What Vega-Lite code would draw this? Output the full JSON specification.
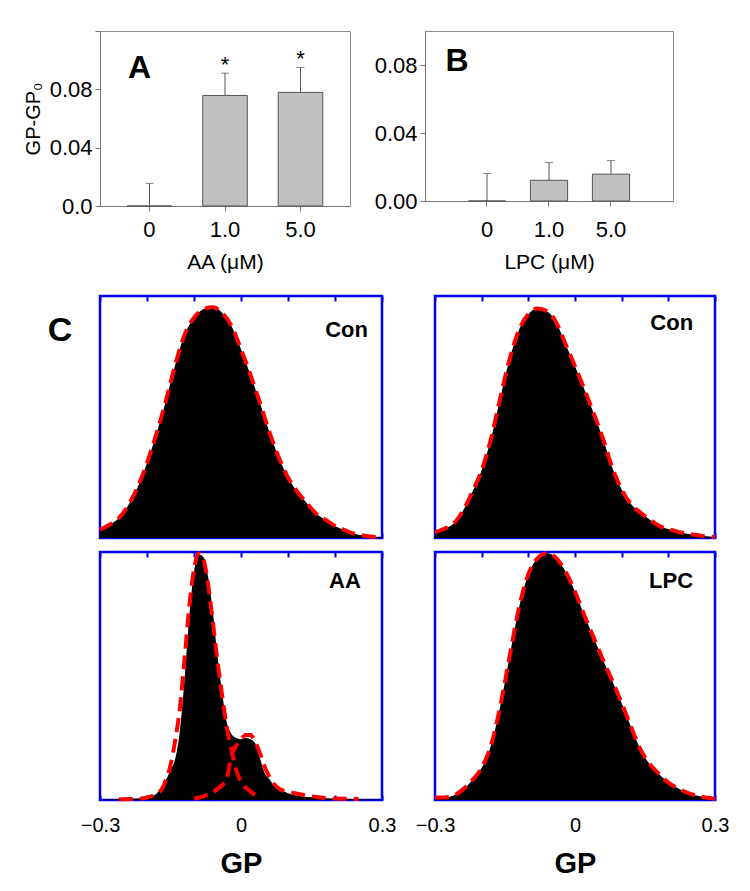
{
  "$schema": "https://vega.github.io/schema/vega-lite/v6.json",
  "background": "white",
  "padding": {"left": 22, "top": 30, "right": 5, "bottom": 5},
  "config": {"font": "Liberation Sans", "axis": {"grid": false}},
  "datasets": {
    "barsAA": [
      {"conc": "0", "value": 0, "upper": 0.0155, "sig": ""},
      {"conc": "1.0", "value": 0.0758, "upper": 0.0911, "sig": "*"},
      {"conc": "5.0", "value": 0.0779, "upper": 0.095, "sig": "*"}
    ],
    "barsLPC": [
      {"conc": "0", "value": 0, "upper": 0.0162},
      {"conc": "1.0", "value": 0.0122, "upper": 0.0226},
      {"conc": "5.0", "value": 0.0158, "upper": 0.0238}
    ],
    "conL": [
      {"gp": -0.30, "count": 0.034}, {"gp": -0.28, "count": 0.055}, {"gp": -0.26, "count": 0.082},
      {"gp": -0.24, "count": 0.135}, {"gp": -0.22, "count": 0.21}, {"gp": -0.20, "count": 0.31},
      {"gp": -0.18, "count": 0.43}, {"gp": -0.16, "count": 0.565}, {"gp": -0.14, "count": 0.715},
      {"gp": -0.12, "count": 0.84}, {"gp": -0.10, "count": 0.91}, {"gp": -0.08, "count": 0.945},
      {"gp": -0.06, "count": 0.953}, {"gp": -0.04, "count": 0.93}, {"gp": -0.02, "count": 0.875},
      {"gp": 0.00, "count": 0.78}, {"gp": 0.02, "count": 0.675}, {"gp": 0.04, "count": 0.56},
      {"gp": 0.06, "count": 0.44}, {"gp": 0.08, "count": 0.335}, {"gp": 0.10, "count": 0.25},
      {"gp": 0.12, "count": 0.19}, {"gp": 0.14, "count": 0.145}, {"gp": 0.16, "count": 0.10},
      {"gp": 0.18, "count": 0.075}, {"gp": 0.20, "count": 0.05}, {"gp": 0.22, "count": 0.033},
      {"gp": 0.24, "count": 0.018}, {"gp": 0.26, "count": 0.01}, {"gp": 0.28, "count": 0.005},
      {"gp": 0.30, "count": 0.003}
    ],
    "conR": [
      {"gp": -0.30, "count": 0.023}, {"gp": -0.28, "count": 0.038}, {"gp": -0.26, "count": 0.06},
      {"gp": -0.24, "count": 0.113}, {"gp": -0.22, "count": 0.19}, {"gp": -0.20, "count": 0.28},
      {"gp": -0.18, "count": 0.41}, {"gp": -0.16, "count": 0.58}, {"gp": -0.14, "count": 0.74},
      {"gp": -0.12, "count": 0.86}, {"gp": -0.10, "count": 0.925}, {"gp": -0.08, "count": 0.948},
      {"gp": -0.06, "count": 0.937}, {"gp": -0.04, "count": 0.89}, {"gp": -0.02, "count": 0.80},
      {"gp": 0.00, "count": 0.71}, {"gp": 0.02, "count": 0.615}, {"gp": 0.04, "count": 0.515},
      {"gp": 0.06, "count": 0.41}, {"gp": 0.08, "count": 0.29}, {"gp": 0.10, "count": 0.20},
      {"gp": 0.12, "count": 0.14}, {"gp": 0.14, "count": 0.105}, {"gp": 0.16, "count": 0.076},
      {"gp": 0.18, "count": 0.05}, {"gp": 0.20, "count": 0.037}, {"gp": 0.22, "count": 0.026},
      {"gp": 0.24, "count": 0.018}, {"gp": 0.26, "count": 0.012}, {"gp": 0.28, "count": 0.007},
      {"gp": 0.30, "count": 0.004}
    ],
    "lpc": [
      {"gp": -0.30, "count": 0.01}, {"gp": -0.28, "count": 0.01}, {"gp": -0.26, "count": 0.018},
      {"gp": -0.24, "count": 0.043}, {"gp": -0.22, "count": 0.08}, {"gp": -0.20, "count": 0.13},
      {"gp": -0.18, "count": 0.22}, {"gp": -0.16, "count": 0.38}, {"gp": -0.14, "count": 0.58},
      {"gp": -0.12, "count": 0.775}, {"gp": -0.10, "count": 0.91}, {"gp": -0.08, "count": 0.975},
      {"gp": -0.06, "count": 0.995}, {"gp": -0.04, "count": 0.975}, {"gp": -0.02, "count": 0.92},
      {"gp": 0.00, "count": 0.84}, {"gp": 0.02, "count": 0.745}, {"gp": 0.04, "count": 0.655},
      {"gp": 0.06, "count": 0.565}, {"gp": 0.08, "count": 0.48}, {"gp": 0.10, "count": 0.39},
      {"gp": 0.12, "count": 0.295}, {"gp": 0.14, "count": 0.205}, {"gp": 0.16, "count": 0.145},
      {"gp": 0.18, "count": 0.105}, {"gp": 0.20, "count": 0.07}, {"gp": 0.22, "count": 0.048},
      {"gp": 0.24, "count": 0.03}, {"gp": 0.26, "count": 0.018}, {"gp": 0.28, "count": 0.01},
      {"gp": 0.30, "count": 0.005}
    ],
    "aaHist": [
      {"gp": -0.30, "count": 0.0}, {"gp": -0.28, "count": 0.002}, {"gp": -0.26, "count": 0.003},
      {"gp": -0.24, "count": 0.004}, {"gp": -0.22, "count": 0.006}, {"gp": -0.20, "count": 0.01},
      {"gp": -0.19, "count": 0.015}, {"gp": -0.18, "count": 0.025}, {"gp": -0.17, "count": 0.05},
      {"gp": -0.16, "count": 0.08}, {"gp": -0.15, "count": 0.12}, {"gp": -0.14, "count": 0.165},
      {"gp": -0.13, "count": 0.28}, {"gp": -0.12, "count": 0.49}, {"gp": -0.11, "count": 0.74},
      {"gp": -0.10, "count": 0.92}, {"gp": -0.09, "count": 0.99}, {"gp": -0.08, "count": 0.98},
      {"gp": -0.07, "count": 0.90}, {"gp": -0.06, "count": 0.76}, {"gp": -0.05, "count": 0.58},
      {"gp": -0.04, "count": 0.43}, {"gp": -0.03, "count": 0.31}, {"gp": -0.02, "count": 0.265},
      {"gp": -0.01, "count": 0.25}, {"gp": 0.00, "count": 0.245}, {"gp": 0.01, "count": 0.25},
      {"gp": 0.02, "count": 0.245}, {"gp": 0.03, "count": 0.23}, {"gp": 0.04, "count": 0.17},
      {"gp": 0.05, "count": 0.11}, {"gp": 0.06, "count": 0.085}, {"gp": 0.07, "count": 0.06},
      {"gp": 0.08, "count": 0.045}, {"gp": 0.09, "count": 0.035}, {"gp": 0.10, "count": 0.027},
      {"gp": 0.12, "count": 0.017}, {"gp": 0.14, "count": 0.012}, {"gp": 0.16, "count": 0.01},
      {"gp": 0.18, "count": 0.007}, {"gp": 0.20, "count": 0.005}, {"gp": 0.22, "count": 0.004},
      {"gp": 0.24, "count": 0.003}, {"gp": 0.26, "count": 0.002}, {"gp": 0.28, "count": 0.001},
      {"gp": 0.30, "count": 0.0}
    ],
    "aaFit": [
      {"curve": "G1", "gp": -0.26, "fit": 0.003}, {"curve": "G1", "gp": -0.24, "fit": 0.004},
      {"curve": "G1", "gp": -0.22, "fit": 0.005}, {"curve": "G1", "gp": -0.20, "fit": 0.01},
      {"curve": "G1", "gp": -0.18, "fit": 0.025}, {"curve": "G1", "gp": -0.17, "fit": 0.04},
      {"curve": "G1", "gp": -0.16, "fit": 0.08}, {"curve": "G1", "gp": -0.15, "fit": 0.14},
      {"curve": "G1", "gp": -0.14, "fit": 0.24}, {"curve": "G1", "gp": -0.13, "fit": 0.37},
      {"curve": "G1", "gp": -0.12, "fit": 0.57}, {"curve": "G1", "gp": -0.11, "fit": 0.78},
      {"curve": "G1", "gp": -0.10, "fit": 0.93}, {"curve": "G1", "gp": -0.09, "fit": 0.995},
      {"curve": "G1", "gp": -0.08, "fit": 0.97}, {"curve": "G1", "gp": -0.07, "fit": 0.87},
      {"curve": "G1", "gp": -0.06, "fit": 0.72}, {"curve": "G1", "gp": -0.05, "fit": 0.56},
      {"curve": "G1", "gp": -0.04, "fit": 0.42}, {"curve": "G1", "gp": -0.03, "fit": 0.29},
      {"curve": "G1", "gp": -0.02, "fit": 0.2}, {"curve": "G1", "gp": -0.01, "fit": 0.12},
      {"curve": "G1", "gp": 0.00, "fit": 0.075}, {"curve": "G1", "gp": 0.01, "fit": 0.05},
      {"curve": "G1", "gp": 0.02, "fit": 0.035}, {"curve": "G1", "gp": 0.03, "fit": 0.02},
      {"curve": "G1", "gp": 0.04, "fit": 0.01},
      {"curve": "G2", "gp": -0.10, "fit": 0.005}, {"curve": "G2", "gp": -0.08, "fit": 0.015},
      {"curve": "G2", "gp": -0.06, "fit": 0.03}, {"curve": "G2", "gp": -0.05, "fit": 0.045},
      {"curve": "G2", "gp": -0.04, "fit": 0.06}, {"curve": "G2", "gp": -0.03, "fit": 0.09},
      {"curve": "G2", "gp": -0.02, "fit": 0.18}, {"curve": "G2", "gp": -0.01, "fit": 0.22},
      {"curve": "G2", "gp": 0.00, "fit": 0.245}, {"curve": "G2", "gp": 0.01, "fit": 0.262},
      {"curve": "G2", "gp": 0.02, "fit": 0.262}, {"curve": "G2", "gp": 0.03, "fit": 0.235},
      {"curve": "G2", "gp": 0.04, "fit": 0.19}, {"curve": "G2", "gp": 0.05, "fit": 0.135},
      {"curve": "G2", "gp": 0.06, "fit": 0.095}, {"curve": "G2", "gp": 0.07, "fit": 0.065},
      {"curve": "G2", "gp": 0.08, "fit": 0.047}, {"curve": "G2", "gp": 0.10, "fit": 0.033},
      {"curve": "G2", "gp": 0.12, "fit": 0.025}, {"curve": "G2", "gp": 0.14, "fit": 0.018},
      {"curve": "G2", "gp": 0.16, "fit": 0.012}, {"curve": "G2", "gp": 0.18, "fit": 0.008},
      {"curve": "G2", "gp": 0.20, "fit": 0.006}, {"curve": "G2", "gp": 0.22, "fit": 0.005},
      {"curve": "G2", "gp": 0.25, "fit": 0.004}
    ]
  },
  "spacing": 20,
  "vconcat": [
    {
      "bounds": "flush",
      "spacing": 75,
      "hconcat": [
        {
          "width": 250,
          "height": 175,
          "view": {"stroke": "#8c8c8c", "strokeWidth": 1},
          "data": {"name": "barsAA"},
          "encoding": {
            "x": {"field": "conc", "type": "nominal", "sort": null, "scale": {"paddingInner": 0.41, "paddingOuter": 0.36},
              "axis": {"title": "AA (μM)", "labelAngle": 0, "labelFontSize": 22, "labelColor": "black", "titleFontSize": 21, "titleFontWeight": "normal", "titleColor": "black", "tickColor": "#777", "domainColor": "#777", "tickSize": 5, "labelPadding": 8, "titlePadding": 11}}
          },
          "layer": [
            {"mark": {"type": "bar", "fill": "#c0c0c0", "stroke": "#555", "strokeWidth": 1},
             "encoding": {"y": {"field": "value", "type": "quantitative", "scale": {"domain": [0, 0.12], "nice": false},
               "axis": {"values": [0, 0.02, 0.04, 0.06, 0.08, 0.1, 0.12], "labelExpr": "datum.value == 0 ? '0.0' : (datum.value == 0.04 ? '0.04' : (datum.value == 0.08 ? '0.08' : ''))", "title": "GP-GP₀", "titleFontSize": 20, "titleFontWeight": "normal", "titleColor": "black", "labelFontSize": 22, "labelColor": "black", "tickColor": "#777", "domainColor": "#777", "tickSize": 5, "labelPadding": 3, "titlePadding": 6}}}},
            {"mark": {"type": "rule", "color": "#555", "strokeWidth": 1},
             "encoding": {"y": {"field": "value", "type": "quantitative"}, "y2": {"field": "upper"}}},
            {"mark": {"type": "tick", "color": "#555", "size": 8, "thickness": 1, "orient": "horizontal"},
             "encoding": {"y": {"field": "upper", "type": "quantitative"}}},
            {"mark": {"type": "text", "fontSize": 22, "baseline": "alphabetic", "dy": -1, "color": "black"},
             "encoding": {"y": {"field": "upper", "type": "quantitative"}, "text": {"field": "sig"}}},
            {"data": {"values": [{"label": "A"}]},
             "mark": {"type": "text", "fontSize": 32, "fontWeight": "bold", "baseline": "alphabetic", "align": "center", "dx": -10, "color": "black"},
             "encoding": {"x": {"datum": "0", "type": "nominal"}, "y": {"datum": 0.088, "type": "quantitative"}, "text": {"field": "label"}}}
          ]
        },
        {
          "width": 248,
          "height": 170,
          "view": {"stroke": "#8c8c8c", "strokeWidth": 1},
          "data": {"name": "barsLPC"},
          "encoding": {
            "x": {"field": "conc", "type": "nominal", "sort": null, "scale": {"paddingInner": 0.4, "paddingOuter": 0.7},
              "axis": {"title": "LPC (μM)", "labelAngle": 0, "labelFontSize": 22, "labelColor": "black", "titleFontSize": 21, "titleFontWeight": "normal", "titleColor": "black", "tickColor": "#777", "domainColor": "#777", "tickSize": 5, "labelPadding": 13, "titlePadding": 11}}
          },
          "layer": [
            {"mark": {"type": "bar", "fill": "#c0c0c0", "stroke": "#555", "strokeWidth": 1},
             "encoding": {"y": {"field": "value", "type": "quantitative", "scale": {"domain": [0, 0.1], "nice": false},
               "axis": {"values": [0, 0.02, 0.04, 0.06, 0.08, 0.1], "labelExpr": "datum.value == 0 ? '0.00' : (datum.value == 0.04 ? '0.04' : (datum.value == 0.08 ? '0.08' : ''))", "title": null, "labelFontSize": 22, "labelColor": "black", "tickColor": "#777", "domainColor": "#777", "tickSize": 5, "labelPadding": 3}}}},
            {"mark": {"type": "rule", "color": "#555", "strokeWidth": 1},
             "encoding": {"y": {"field": "value", "type": "quantitative"}, "y2": {"field": "upper"}}},
            {"mark": {"type": "tick", "color": "#555", "size": 8, "thickness": 1, "orient": "horizontal"},
             "encoding": {"y": {"field": "upper", "type": "quantitative"}}},
            {"data": {"values": [{"label": "B"}]},
             "mark": {"type": "text", "fontSize": 32, "fontWeight": "bold", "baseline": "alphabetic", "align": "center", "dx": -30, "color": "black"},
             "encoding": {"x": {"datum": "0", "type": "nominal"}, "y": {"datum": 0.0765, "type": "quantitative"}, "text": {"field": "label"}}}
          ]
        }
      ]
    },
    {
      "spacing": -4,
      "vconcat": [
        {
          "bounds": "flush",
          "spacing": 53,
          "hconcat": [
            {
              "width": 282,
              "height": 242,
              "view": {"stroke": "#0000ee", "strokeWidth": 2.5},
              "data": {"name": "conL"},
              "resolve": {"axis": {"x": "independent"}},
              "layer": [
                {"mark": {"type": "area", "color": "black", "interpolate": "monotone"},
                 "encoding": {
                   "x": {"field": "gp", "type": "quantitative", "scale": {"domain": [-0.3, 0.3], "nice": false, "zero": false},
                     "axis": {"orient": "bottom", "values": [-0.3, -0.2, -0.1, 0, 0.1, 0.2, 0.3], "domain": false, "labels": false, "tickColor": "#0000ee", "tickWidth": 2, "tickSize": -5, "title": null, "minExtent": 0, "labelPadding": 0}},
                   "y": {"field": "count", "type": "quantitative", "scale": {"domain": [0, 1], "nice": false}, "axis": null}}},
                {"mark": {"type": "line", "color": "#ff0000", "strokeWidth": 4, "strokeDash": [14, 7], "interpolate": "monotone"},
                 "encoding": {
                   "x": {"field": "gp", "type": "quantitative", "axis": {"orient": "top", "values": [-0.3, -0.2, -0.1, 0, 0.1, 0.2, 0.3], "domain": false, "labels": false, "tickColor": "#0000ee", "tickWidth": 2, "tickSize": -5, "title": null, "minExtent": 0, "labelPadding": 0}},
                   "y": {"field": "count", "type": "quantitative", "axis": null}}},
                {"data": {"values": [{"label": "Con"}]},
                 "mark": {"type": "text", "align": "right", "baseline": "alphabetic", "fontSize": 22, "fontWeight": "bold", "color": "black"},
                 "encoding": {
                   "x": {"datum": 0.27, "type": "quantitative", "axis": null},
                   "y": {"datum": 0.83, "type": "quantitative", "axis": null},
                   "text": {"field": "label"}}},
                {"data": {"values": [{"label": "C"}]},
                 "mark": {"type": "text", "align": "center", "baseline": "alphabetic", "fontSize": 34, "fontWeight": "bold", "color": "black"},
                 "encoding": {
                   "x": {"datum": -0.385, "type": "quantitative", "axis": null},
                   "y": {"datum": 0.814, "type": "quantitative", "axis": null},
                   "text": {"field": "label"}}}
              ]
            },
            {
              "width": 280,
              "height": 242,
              "view": {"stroke": "#0000ee", "strokeWidth": 2.5},
              "data": {"name": "conR"},
              "resolve": {"axis": {"x": "independent"}},
              "layer": [
                {"mark": {"type": "area", "color": "black", "interpolate": "monotone"},
                 "encoding": {
                   "x": {"field": "gp", "type": "quantitative", "scale": {"domain": [-0.3, 0.3], "nice": false, "zero": false},
                     "axis": {"orient": "bottom", "values": [-0.3, -0.2, -0.1, 0, 0.1, 0.2, 0.3], "domain": false, "labels": false, "tickColor": "#0000ee", "tickWidth": 2, "tickSize": -5, "title": null, "minExtent": 0, "labelPadding": 0}},
                   "y": {"field": "count", "type": "quantitative", "scale": {"domain": [0, 1], "nice": false}, "axis": null}}},
                {"mark": {"type": "line", "color": "#ff0000", "strokeWidth": 4, "strokeDash": [14, 7], "interpolate": "monotone"},
                 "encoding": {
                   "x": {"field": "gp", "type": "quantitative", "axis": {"orient": "top", "values": [-0.3, -0.2, -0.1, 0, 0.1, 0.2, 0.3], "domain": false, "labels": false, "tickColor": "#0000ee", "tickWidth": 2, "tickSize": -5, "title": null, "minExtent": 0, "labelPadding": 0}},
                   "y": {"field": "count", "type": "quantitative", "axis": null}}},
                {"data": {"values": [{"label": "Con"}]},
                 "mark": {"type": "text", "align": "right", "baseline": "alphabetic", "fontSize": 22, "fontWeight": "bold", "color": "black"},
                 "encoding": {
                   "x": {"datum": 0.253, "type": "quantitative", "axis": null},
                   "y": {"datum": 0.86, "type": "quantitative", "axis": null},
                   "text": {"field": "label"}}}
              ]
            }
          ]
        },
        {
          "bounds": "flush",
          "spacing": 53,
          "hconcat": [
            {
              "width": 282,
              "height": 248,
              "view": {"stroke": "#0000ee", "strokeWidth": 2.5},
              "resolve": {"axis": {"x": "independent"}},
              "layer": [
                {"data": {"name": "aaHist"},
                 "mark": {"type": "area", "color": "black", "interpolate": "monotone"},
                 "encoding": {
                   "x": {"field": "gp", "type": "quantitative", "scale": {"domain": [-0.3, 0.3], "nice": false, "zero": false},
                     "axis": {"orient": "bottom", "values": [-0.3, -0.2, -0.1, 0, 0.1, 0.2, 0.3], "domain": false, "labels": true, "labelFlush": false, "labelExpr": "datum.value == 0 ? '0' : (abs(datum.value) > 0.29 ? format(datum.value, '.1f') : '')", "labelFontSize": 20, "labelColor": "black", "labelPadding": 20, "tickColor": "#0000ee", "tickWidth": 2, "tickSize": -5, "title": "GP", "titleFontSize": 29, "titleFontWeight": "bold", "titleColor": "black", "titlePadding": 14}},
                   "y": {"field": "count", "type": "quantitative", "scale": {"domain": [0, 1], "nice": false}, "axis": null}}},
                {"data": {"name": "aaFit"},
                 "mark": {"type": "line", "color": "#ff0000", "strokeWidth": 4, "strokeDash": [14, 7], "interpolate": "monotone"},
                 "encoding": {
                   "x": {"field": "gp", "type": "quantitative", "axis": {"orient": "top", "values": [-0.3, -0.2, -0.1, 0, 0.1, 0.2, 0.3], "domain": false, "labels": false, "tickColor": "#0000ee", "tickWidth": 2, "tickSize": -5, "title": null, "minExtent": 0, "labelPadding": 0}},
                   "y": {"field": "fit", "type": "quantitative", "axis": null},
                   "detail": {"field": "curve", "type": "nominal"}}},
                {"data": {"values": [{"label": "AA"}]},
                 "mark": {"type": "text", "align": "right", "baseline": "alphabetic", "fontSize": 22, "fontWeight": "bold", "color": "black"},
                 "encoding": {
                   "x": {"datum": 0.255, "type": "quantitative", "axis": null},
                   "y": {"datum": 0.855, "type": "quantitative", "axis": null},
                   "text": {"field": "label"}}}
              ]
            },
            {
              "width": 280,
              "height": 248,
              "view": {"stroke": "#0000ee", "strokeWidth": 2.5},
              "data": {"name": "lpc"},
              "resolve": {"axis": {"x": "independent"}},
              "layer": [
                {"mark": {"type": "area", "color": "black", "interpolate": "monotone"},
                 "encoding": {
                   "x": {"field": "gp", "type": "quantitative", "scale": {"domain": [-0.3, 0.3], "nice": false, "zero": false},
                     "axis": {"orient": "bottom", "values": [-0.3, -0.2, -0.1, 0, 0.1, 0.2, 0.3], "domain": false, "labels": true, "labelFlush": false, "labelExpr": "datum.value == 0 ? '0' : (abs(datum.value) > 0.29 ? format(datum.value, '.1f') : '')", "labelFontSize": 20, "labelColor": "black", "labelPadding": 20, "tickColor": "#0000ee", "tickWidth": 2, "tickSize": -5, "title": "GP", "titleFontSize": 29, "titleFontWeight": "bold", "titleColor": "black", "titlePadding": 14}},
                   "y": {"field": "count", "type": "quantitative", "scale": {"domain": [0, 1], "nice": false}, "axis": null}}},
                {"mark": {"type": "line", "color": "#ff0000", "strokeWidth": 4, "strokeDash": [14, 7], "interpolate": "monotone"},
                 "encoding": {
                   "x": {"field": "gp", "type": "quantitative", "axis": {"orient": "top", "values": [-0.3, -0.2, -0.1, 0, 0.1, 0.2, 0.3], "domain": false, "labels": false, "tickColor": "#0000ee", "tickWidth": 2, "tickSize": -5, "title": null, "minExtent": 0, "labelPadding": 0}},
                   "y": {"field": "count", "type": "quantitative", "axis": null}}},
                {"data": {"values": [{"label": "LPC"}]},
                 "mark": {"type": "text", "align": "right", "baseline": "alphabetic", "fontSize": 22, "fontWeight": "bold", "color": "black"},
                 "encoding": {
                   "x": {"datum": 0.253, "type": "quantitative", "axis": null},
                   "y": {"datum": 0.855, "type": "quantitative", "axis": null},
                   "text": {"field": "label"}}}
              ]
            }
          ]
        }
      ]
    }
  ]
}
